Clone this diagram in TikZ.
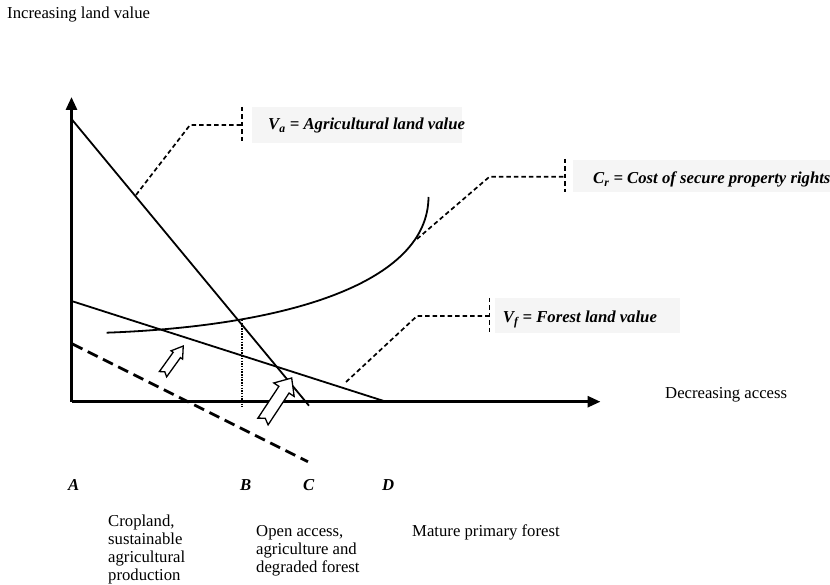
\documentclass[tikz,border=0pt]{standalone}
\usepackage{fontspec}
\setmainfont{Liberation Serif}
\usetikzlibrary{calc,arrows.meta}
% notched block arrow: tail x, tail y, angle, length, half shaft, half head, head length, notch
\newcommand\blockarrow[8]{%
  \begin{scope}[shift={(#1,#2)},rotate=#3]
    \draw[hollow] (0,#5) -- ({#4-#7},#5) -- ({#4-#7},#6) -- (#4,0) -- ({#4-#7},-#6)
      -- ({#4-#7},-#5) -- (0,-#5) -- (#8,0) -- cycle;
  \end{scope}}
\begin{document}
\begin{tikzpicture}[x=1pt,y=-1pt,
  axis/.style={line width=2.8pt},
  curve/.style={line width=1.8pt},
  leader/.style={line width=1.7pt, dash pattern=on 4.5pt off 3pt},
  shifted/.style={line width=2.8pt, dash pattern=on 11pt off 6pt},
  dotline/.style={line width=2.2pt, dash pattern=on 1.5pt off 1.2pt},
  txt/.style={inner sep=0pt, anchor=base west, font=\fontsize{16.7}{18.5}\selectfont},
  lbl/.style={inner sep=0pt, anchor=base west, font=\fontsize{16.7}{18.5}\selectfont\bfseries\itshape},
  lblbox/.style={fill=black!4, draw=none},
  hollow/.style={draw=black, fill=white, line width=1.3pt, line join=miter},
]
\useasboundingbox (0,0) rectangle (830,585);

% axes
\coordinate (O) at (71.5,401.7);
\coordinate (Ytop) at (71.5,97);
\coordinate (Xend) at (600.5,401.7);
\draw[axis,-{Triangle[length=13pt,width=11pt]}] (O) -- (Ytop);
\draw[axis,-{Triangle[length=13pt,width=11pt]}] (O) -- (Xend);

% label backgrounds
\fill[lblbox] (252,107) rectangle (462,143);
\fill[lblbox] (573,160) rectangle (830,192);
\fill[lblbox] (495,298) rectangle (680,333);

% agricultural land value
\coordinate (Va0) at (71.5,119);
\coordinate (Va1) at (309,405.7);
\draw[curve] (Va0) -- (Va1);

% forest land value
\coordinate (Vf0) at (71.5,301);
\coordinate (Vf1) at (386,401.7);
\draw[curve] (Vf0) -- (Vf1);

% cost of secure property rights
\coordinate (Cr0) at (106.6,332.7);
\coordinate (Cr1) at (428.5,197);
\draw[curve] (Cr0) .. controls (290,326) and (428,282) .. (Cr1);

% shifted forest value
\coordinate (S0) at (72.6,344);
\coordinate (S1) at (308,461.7);
\draw[shifted] (S0) -- (S1);

% boundary at B
\coordinate (B0) at (241.6,320);
\coordinate (B1) at (241.6,406.7);
\draw[dotline] (B0) -- (B1);

% hollow shift arrows
\blockarrow{163}{374.2}{54.3}{34.7}{4.5}{7.1}{11}{3}
\blockarrow{263}{421.5}{56.6}{52.1}{6.1}{12.2}{14}{4}

% leaders
\coordinate (La0) at (136,195);
\coordinate (La1) at (190,125);
\coordinate (La2) at (242,125);
\draw[leader] (La0) -- (La1) -- (La2);
\draw[leader] (242,107) -- (242,143);

\coordinate (Lc0) at (417,239);
\coordinate (Lc1) at (489.5,176.7);
\coordinate (Lc2) at (565,176.7);
\draw[leader] (Lc0) -- (Lc1) -- (Lc2);
\draw[leader] (565,159) -- (565,192);

\coordinate (Lf0) at (346,382);
\coordinate (Lf1) at (417,316);
\coordinate (Lf2) at (489.5,316);
\draw[leader] (Lf0) -- (Lf1) -- (Lf2);
\draw[leader] (489.5,298) -- (489.5,333);

% curve labels
\node[lbl] (va) at (268,130) {V\textsubscript{a} = Agricultural land value};
\node[lbl] (cr) at (593,184) {C\textsubscript{r} = Cost of secure property rights};
\node[lbl] (vf) at (502.7,322.7) {V\textsubscript{f} = Forest land value};

% axis titles
\node[txt] (ytitle) at (7,19) {Increasing land value};
\node[txt] (xtitle) at (665,398) {Decreasing access};

% points on the access axis
\node[lbl] (A) at (68,490) {A};
\node[lbl] (B) at (240,490) {B};
\node[lbl] (C) at (303,490) {C};
\node[lbl] (D) at (382,490) {D};

% land-use zones
\node[txt] (z1a) at (108,526) {Cropland,};
\node[txt] (z1b) at (108,544.3) {sustainable};
\node[txt] (z1c) at (108,562.6) {agricultural};
\node[txt] (z1d) at (108,580.9) {production};
\node[txt] (z2a) at (256,536) {Open access,};
\node[txt] (z2b) at (256,554.3) {agriculture and};
\node[txt] (z2c) at (256,572.6) {degraded forest};
\node[txt] (z3) at (412,536) {Mature primary forest};
\end{tikzpicture}
\end{document}
